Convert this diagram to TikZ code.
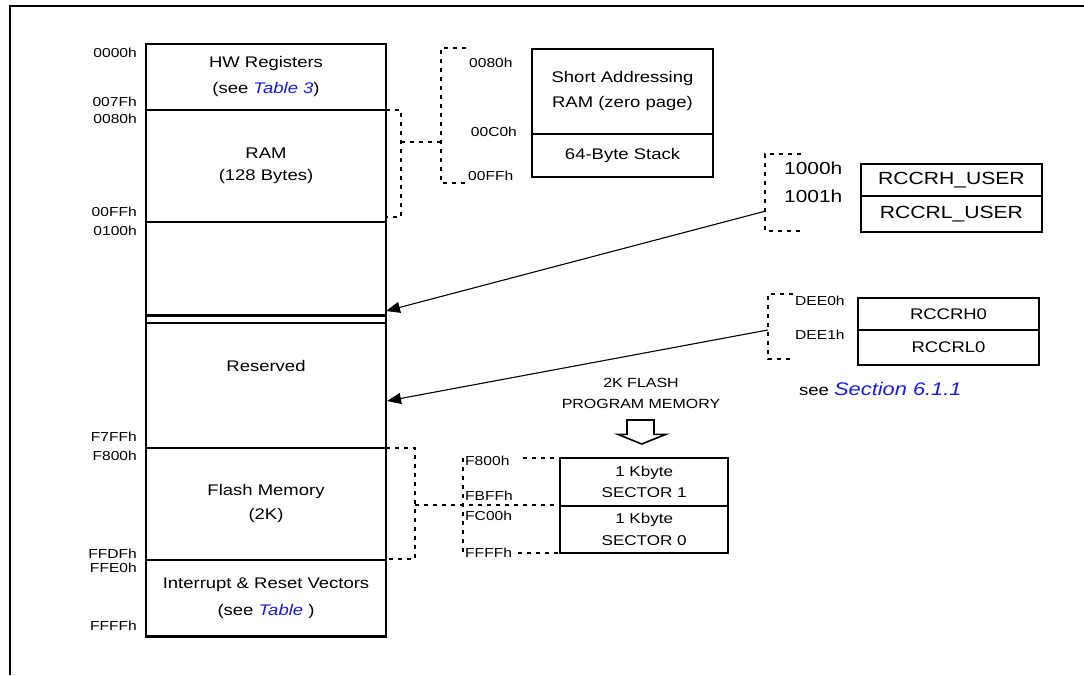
\documentclass[tikz,border=0pt]{standalone}
\usepackage{fontspec}
\setmainfont{Liberation Sans}[FakeStretch=1.2]
\usetikzlibrary{arrows.meta}
\definecolor{linkblue}{RGB}{25,25,235}
\newcommand{\fsz}[2]{\fontsize{#1}{#2}\selectfont}
\begin{document}
\begin{tikzpicture}[x=1pt,y=-1pt,
  mem/.style={draw, line width=2.2pt, minimum width=240pt, inner sep=0pt, outer sep=0pt, anchor=north west, align=center, font=\fsz{15.4}{18.5}},
  sabox/.style={draw, line width=2pt, minimum width=181.6pt, inner sep=0pt, outer sep=0pt, anchor=north west, align=center, font=\fsz{15.4}{18.5}},
  rbox/.style={draw, line width=2pt, minimum width=181pt, inner sep=0pt, outer sep=0pt, anchor=north west, align=center},
  secbox/.style={draw, line width=2pt, minimum width=168.3pt, inner sep=0pt, outer sep=0pt, anchor=north west, align=center, font=\fsz{14.2}{17}},
  addr/.style={inner sep=0pt, font=\fsz{13}{15.6}},
  dsh/.style={line width=1.9pt, dash pattern=on 4pt off 5pt},
  conn/.style={line width=1.1pt, -{Triangle[length=14pt,width=11pt]}},
  lnk/.style={text=linkblue, font=\itshape}
]
\useasboundingbox (0,0) rectangle (1084,675);
% frame
\draw[line width=2pt] (9.5,675) -- (9.5,5.5) -- (1084,5.5);

% main memory column
\node[mem, minimum height=66pt] (hw) at (146,44) {HW Registers\\[7.5pt](see \textcolor{linkblue}{\textit{Table 3}})};
\node[mem, minimum height=112pt] (ram) at (146,110) {RAM\\[3.2pt](128 Bytes)};
\node[mem, minimum height=101pt] (free) at (146,222) {};
\draw[line width=2.2pt] (146,315.5) -- (386,315.5);
\node[mem, minimum height=125pt] (res) at (146,323) {};
\node[inner sep=0pt, font=\fsz{15.4}{18.5}] (resT) at (266,365.7) {Reserved};
\node[mem, minimum height=112pt] (fl) at (146,448) {Flash Memory\\[5.5pt](2K)};
\node[mem, minimum height=76.5pt] (irv) at (146,560) {Interrupt \& Reset Vectors\\[8.8pt](see \textcolor{linkblue}{\textit{Table}} )};

% left addresses
\node[addr, anchor=east] (l1) at (137,53) {0000h};
\node[addr, anchor=east] (l2) at (137,101.7) {007Fh};
\node[addr, anchor=east] (l3) at (137,119) {0080h};
\node[addr, anchor=east] (l4) at (137,211.7) {00FFh};
\node[addr, anchor=east] (l5) at (137,231) {0100h};
\node[addr, anchor=east] (l6) at (137,436.7) {F7FFh};
\node[addr, anchor=east] (l7) at (137,456) {F800h};
\node[addr, anchor=east] (l8) at (137,554) {FFDFh};
\node[addr, anchor=east] (l9) at (137,568) {FFE0h};
\node[addr, anchor=east] (l10) at (137,625.7) {FFFFh};

% RAM bracket and zero page
\draw[dsh] (386,110) -- (401,110) -- (401,217) -- (386,217);
\draw[dsh] (401,142) -- (441,142);
\draw[dsh] (466,48) -- (441,48) -- (441,183) -- (466,183);
\node[addr, anchor=west] (z1) at (469,63) {0080h};
\node[addr, anchor=west] (z2) at (470.7,131.7) {00C0h};
\node[addr, anchor=west] (z3) at (468,175.7) {00FFh};
\node[sabox, minimum height=85pt] (sa) at (531.7,49) {Short Addressing\\[6.5pt]RAM (zero page)};
\node[sabox, minimum height=43.3pt] (stk) at (531.7,134) {64-Byte Stack};

% RCCR user
\draw[dsh] (800.7,154) -- (764.7,154) -- (764.7,230.7) -- (800.7,230.7);
\node[inner sep=0pt, anchor=west, font=\fsz{17.4}{20}] (u1) at (784,168.3) {1000h};
\node[inner sep=0pt, anchor=west, font=\fsz{17.4}{20}] (u2) at (784,196.7) {1001h};
\node[rbox, minimum width=181.3pt, minimum height=32pt, font=\fsz{17.6}{21}] (ru1) at (860.7,164) {RCCRH\_USER};
\node[rbox, minimum width=181.3pt, minimum height=35.7pt, font=\fsz{17.6}{21}] (ru2) at (860.7,196) {RCCRL\_USER};
\coordinate (a1s) at (764.7,211.3);
\coordinate (a1e) at (386,311);
\draw[conn] (a1s) -- (a1e);

% RCCR0
\draw[dsh] (792.7,294) -- (767.7,294) -- (767.7,359) -- (792.7,359);
\node[addr, anchor=west] (d1) at (795,301) {DEE0h};
\node[addr, anchor=west] (d2) at (795,334.3) {DEE1h};
\node[rbox, minimum height=32pt, font=\fsz{15.4}{18.5}] (r0a) at (858,298.3) {RCCRH0};
\node[rbox, minimum height=34.7pt, font=\fsz{15.4}{18.5}] (r0b) at (858,330.3) {RCCRL0};
\node[inner sep=0pt, anchor=base west] (see) at (799,395.5) {\fsz{15.4}{18.5}see \textcolor{linkblue}{\fsz{18.2}{21}\textit{Section 6.1.1}}};
\coordinate (a2s) at (767.7,330);
\coordinate (a2e) at (387,401);
\draw[conn] (a2s) -- (a2e);

% flash program memory
\node[inner sep=0pt, align=center, font=\fsz{13.3}{15.9}] (fpm) at (641,393.3) {2K FLASH\\[5.5pt]PROGRAM MEMORY};
\draw[line width=1.6pt, fill=white] (627,420) -- (654,420) -- (654,434.3) -- (666,434.3) -- (641.7,444) -- (617.7,434.3) -- (627,434.3) -- cycle;

\draw[dsh] (386,448) -- (414.7,448) -- (414.7,559.3) -- (386,559.3);
\draw[dsh] (414.7,505.3) -- (560,505.3);
\draw[dsh] (463.3,458) -- (463.3,552.7);
\draw[dsh] (523,458.3) -- (560,458.3);
\draw[dsh] (518,552.7) -- (560,552.7);
\node[addr, anchor=west] (f1) at (465,461) {F800h};
\node[addr, anchor=west] (f2) at (465,496) {FBFFh};
\node[addr, anchor=west] (f3) at (465,516) {FC00h};
\node[addr, anchor=west] (f4) at (465,552.7) {FFFFh};
\node[secbox, minimum height=47.7pt] (s1) at (560,458) {1 Kbyte\\[4.7pt]SECTOR 1};
\node[secbox, minimum height=47.6pt] (s0) at (560,505.7) {1 Kbyte\\[4.7pt]SECTOR 0};
\end{tikzpicture}
\end{document}
